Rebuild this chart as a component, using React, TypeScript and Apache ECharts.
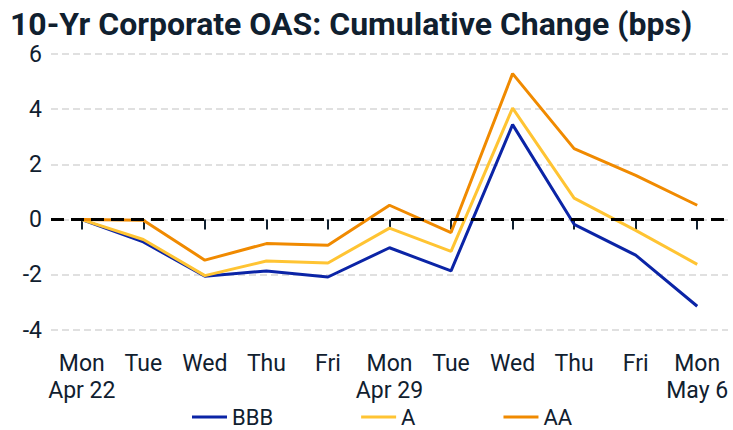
import React, { useEffect, useRef } from "react";
import * as echarts from "echarts";

const categories = [
  "Mon\nApr 22", "Tue", "Wed", "Thu", "Fri", "Mon\nApr 29",
  "Tue", "Wed", "Thu", "Fri", "Mon\nMay 6",
];
const bbb = [0, -0.81, -2.05, -1.86, -2.08, -1.02, -1.86, 3.44, -0.17, -1.29, -3.14];
const a = [0, -0.72, -2.03, -1.5, -1.57, -0.31, -1.15, 4.04, 0.78, -0.39, -1.62];
const aa = [0, -0.02, -1.47, -0.87, -0.93, 0.52, -0.47, 5.29, 2.57, 1.6, 0.52];
const seriesNames = ["BBB", "A", "AA"];
const colors = ["#0b24a6", "#ffc433", "#f08a00"];
const titleText = "10-Yr Corporate OAS: Cumulative Change (bps)";

const textColor = "#10202f";
const font = "Roboto";

export default function App() {
  const ref = useRef<HTMLDivElement>(null);
  useEffect(() => {
    document.body.style.margin = "0";
    if (!ref.current) return;
    const chart = echarts.init(ref.current, undefined, { renderer: "svg" });
    const data = [bbb, a, aa];
    chart.setOption({
      animation: false,
      title: {
        text: titleText,
        left: 5,
        top: 3,
        textStyle: { fontFamily: font, fontWeight: "bold", fontSize: 32, color: textColor },
      },
      legend: {
        top: 406,
        left: 192,
        padding: 0,
        itemWidth: 35,
        itemHeight: 3,
        itemGap: 88,
        icon: "rect",
        textStyle: { fontFamily: font, fontSize: 22, color: textColor, lineHeight: 22 },
        data: seriesNames,
      },
      grid: { left: 51, right: 5, top: 54, bottom: 100, containLabel: false },
      xAxis: {
        type: "category",
        data: categories,
        boundaryGap: true,
        offset: 3,
        axisLine: { show: false },
        axisTick: { show: true, alignWithLabel: true, length: 10, lineStyle: { color: textColor, width: 2 } },
        axisLabel: {
          fontFamily: font, fontSize: 23, color: textColor, margin: 17, lineHeight: 27, interval: 0,
        },
        splitLine: { show: false },
      },
      yAxis: {
        type: "value",
        min: -4,
        max: 6,
        interval: 2,
        axisLine: { show: false },
        axisTick: { show: false },
        axisLabel: { fontFamily: font, fontSize: 23, color: textColor, margin: 9 },
        splitLine: { show: true, lineStyle: { color: "#d6d6d6", width: 1.5, type: [7, 4] } },
      },
      series: data.map((d, i) => ({
        name: seriesNames[i],
        type: "line",
        data: d,
        symbol: "none",
        lineStyle: { width: 3, color: colors[i] },
        itemStyle: { color: colors[i] },
        z: 3 + i,
        markLine: i === 2 ? {
          silent: true,
          symbol: "none",
          label: { show: false },
          lineStyle: { color: "#000", width: 3, type: [13, 7] },
          data: [{ yAxis: 0 }],
          z: 10,
        } : undefined,
      })),
    });
    return () => chart.dispose();
  }, []);
  return <div ref={ref} style={{ width: 733, height: 430 }} />;
}
